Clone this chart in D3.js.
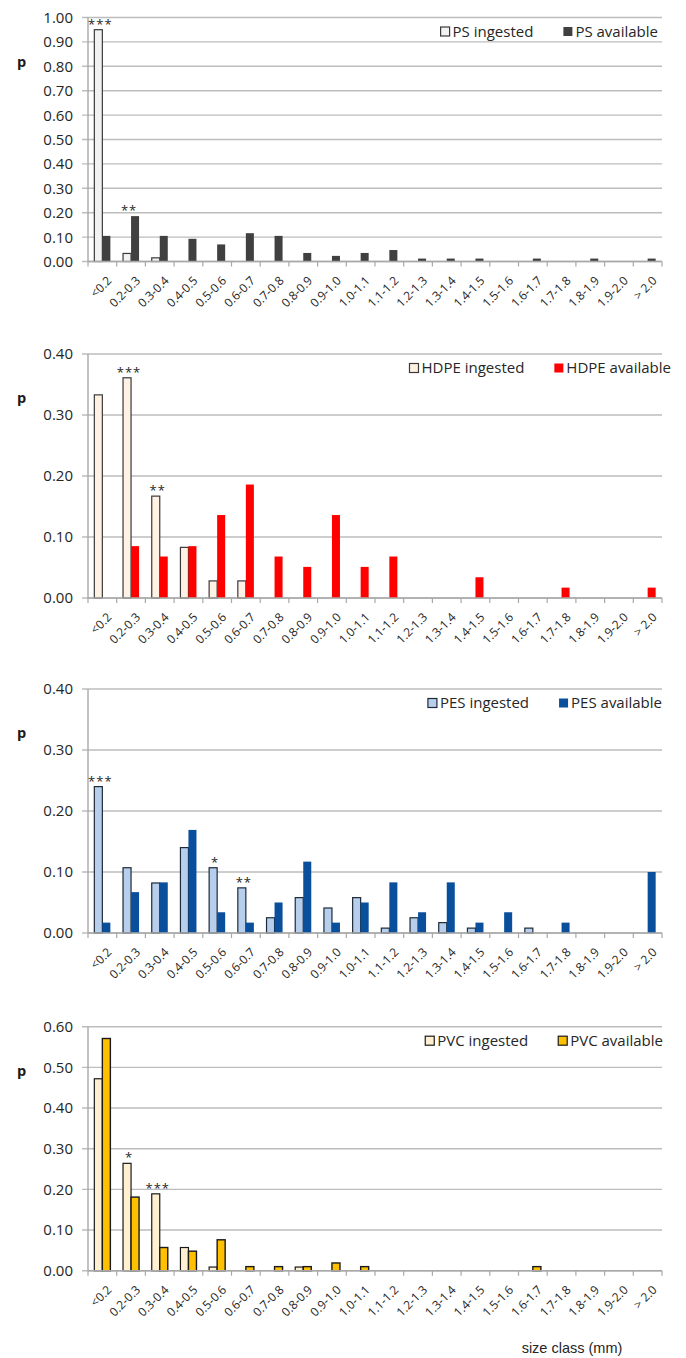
<!DOCTYPE html>
<html>
<head>
<meta charset="utf-8">
<script src="https://cdn.jsdelivr.net/npm/d3@7"></script>
<style>
  html, body { margin: 0; padding: 0; background: #fff; }
  svg { display: block; }
</style>
</head>
<body>
<svg id="chart" width="686" height="1358"></svg>
<script>
// Size classes (mm) shared by all four polymer panels
const categories = ["<0.2","0.2-0.3","0.3-0.4","0.4-0.5","0.5-0.6","0.6-0.7","0.7-0.8","0.8-0.9","0.9-1.0","1.0-1.1",
  "1.1-1.2","1.2-1.3","1.3-1.4","1.4-1.5","1.5-1.6","1.6-1.7","1.7-1.8","1.8-1.9","1.9-2.0","> 2.0"];

// Proportion per size class: ingested vs available particles
const psIngested   = [0.950,0.033,0.015,0,0,0,0,0,0,0,0,0,0,0,0,0,0,0,0,0];
const psAvailable  = [0.105,0.186,0.105,0.093,0.070,0.116,0.105,0.035,0.023,0.035,0.047,0.012,0.012,0.012,0,0.012,0,0.012,0,0.012];
const hdpeIngested  = [0.333,0.361,0.167,0.083,0.028,0.028,0,0,0,0,0,0,0,0,0,0,0,0,0,0];
const hdpeAvailable = [0,0.085,0.068,0.085,0.136,0.186,0.068,0.051,0.136,0.051,0.068,0,0,0.034,0,0,0.017,0,0,0.017];
const pesIngested   = [0.240,0.107,0.082,0.140,0.107,0.074,0.025,0.058,0.041,0.058,0.008,0.025,0.017,0.008,0,0.008,0,0,0,0];
const pesAvailable  = [0.017,0.067,0.083,0.169,0.034,0.017,0.050,0.117,0.017,0.050,0.083,0.034,0.083,0.017,0.034,0,0.017,0,0,0.100];
const pvcIngested   = [0.472,0.264,0.189,0.057,0.009,0,0,0.009,0,0,0,0,0,0,0,0,0,0,0,0];
const pvcAvailable  = [0.571,0.181,0.057,0.048,0.076,0.010,0.010,0.010,0.019,0.010,0,0,0,0,0,0.010,0,0,0,0];

// Significance marks per size class
const psStars   = [{cat:"<0.2", mark:"***"}, {cat:"0.2-0.3", mark:"**"}];
const hdpeStars = [{cat:"0.2-0.3", mark:"***"}, {cat:"0.3-0.4", mark:"**"}];
const pesStars  = [{cat:"<0.2", mark:"***"}, {cat:"0.5-0.6", mark:"*"}, {cat:"0.6-0.7", mark:"**"}];
const pvcStars  = [{cat:"0.2-0.3", mark:"*"}, {cat:"0.3-0.4", mark:"***"}];

// Axis maxima and legend names
const yMaxima = [1.0, 0.4, 0.4, 0.6];
const seriesNames = [["PS ingested","PS available"],["HDPE ingested","HDPE available"],
  ["PES ingested","PES available"],["PVC ingested","PVC available"]];
const xTitle = "size class (mm)";
const yTitle = "p";

const panels = [
  {ing: psIngested, av: psAvailable, stars: psStars, top: 17.5,
   ingFill: "#f2f2f2", ingStroke: "#3a3a3a", avFill: "#404040", avStroke: null, legendEnd: 658},
  {ing: hdpeIngested, av: hdpeAvailable, stars: hdpeStars, top: 354,
   ingFill: "#fff1e4", ingStroke: "#3a3a3a", avFill: "#ff0000", avStroke: null, legendEnd: 671},
  {ing: pesIngested, av: pesAvailable, stars: pesStars, top: 689,
   ingFill: "#b7cfec", ingStroke: "#1e2a38", avFill: "#0a4f9c", avStroke: null, legendEnd: 662},
  {ing: pvcIngested, av: pvcAvailable, stars: pvcStars, top: 1026.7,
   ingFill: "#fff0d2", ingStroke: "#1a1a1a", avFill: "#ffc000", avStroke: "#1a1a1a", legendEnd: 663}
];

const left = 88, right = 662, plotH = 244;
const svg = d3.select("#chart");
const font = "'Open Sans', 'Liberation Sans', Arial, sans-serif";
const textColor = "#262626";

const x = d3.scaleBand().domain(categories).range([left, right]).padding(0);
const xs = d3.scaleBand().domain(["ing","av"]).range([0, x.bandwidth()]).paddingInner(0).paddingOuter(0.79);

panels.forEach((p, i) => {
  const bottom = p.top + plotH;
  const y = d3.scaleLinear().domain([0, yMaxima[i]]).range([bottom, p.top]);
  const ticks = d3.range(0, yMaxima[i] + 1e-9, 0.1);
  const g = svg.append("g");

  // horizontal gridlines with short outward ticks
  g.append("g").selectAll("line").data(ticks).join("line")
    .attr("x1", left - 6).attr("x2", right)
    .attr("y1", d => y(d)).attr("y2", d => y(d))
    .attr("stroke", "#bdbdbd").attr("stroke-width", 1.4);

  // y tick labels
  g.append("g").selectAll("text").data(ticks).join("text")
    .attr("x", left - 15).attr("y", d => y(d)).attr("dy", "0.36em")
    .attr("text-anchor", "end").attr("font-family", font).attr("font-size", 15)
    .attr("fill", textColor).text(d => d3.format(".2f")(d));

  // y axis title
  g.append("text").attr("x", 17).attr("y", p.top + 49)
    .attr("font-family", font).attr("font-weight", "bold").attr("font-size", 14.5)
    .attr("fill", "#1a1a1a").text(yTitle);

  // vertical axis line
  g.append("line").attr("x1", left).attr("x2", left).attr("y1", p.top).attr("y2", bottom)
    .attr("stroke", "#a8a8a8").attr("stroke-width", 1.4);

  // bars
  const rows = categories.map((c, k) => ({cat: c, ing: p.ing[k], av: p.av[k]}));
  const bars = g.append("g");
  bars.selectAll("rect.ing").data(rows.filter(d => d.ing > 0)).join("rect")
    .attr("class", "ing")
    .attr("x", d => x(d.cat) + xs("ing")).attr("width", xs.bandwidth())
    .attr("y", d => y(d.ing)).attr("height", d => y(0) - y(d.ing))
    .attr("fill", p.ingFill).attr("stroke", p.ingStroke).attr("stroke-width", 1.2);
  bars.selectAll("rect.av").data(rows.filter(d => d.av > 0)).join("rect")
    .attr("class", "av")
    .attr("x", d => x(d.cat) + xs("av")).attr("width", xs.bandwidth())
    .attr("y", d => y(d.av)).attr("height", d => y(0) - y(d.av))
    .attr("fill", p.avFill)
    .attr("stroke", p.avStroke || "none").attr("stroke-width", p.avStroke ? 1.4 : 0);

  // bottom axis with category boundary ticks
  const xAxis = g.append("g").attr("transform", `translate(0,${bottom})`);
  xAxis.append("line").attr("x1", left).attr("x2", right)
    .attr("stroke", "#a8a8a8").attr("stroke-width", 1.4);
  xAxis.selectAll("line.tk").data(d3.range(categories.length + 1)).join("line")
    .attr("class", "tk")
    .attr("x1", k => left + k * x.step()).attr("x2", k => left + k * x.step())
    .attr("y1", 0).attr("y2", 5).attr("stroke", "#a8a8a8").attr("stroke-width", 1.2);
  xAxis.selectAll("text").data(categories).join("text")
    .attr("transform", d => `translate(${x(d) + x.bandwidth() / 2 + 7},${17}) rotate(-45)`)
    .attr("text-anchor", "end").attr("dy", "0.35em")
    .attr("font-family", font).attr("font-size", 12).attr("fill", textColor)
    .text(d => d);

  // significance marks
  g.append("g").selectAll("text").data(p.stars).join("text")
    .attr("x", d => x(d.cat) + x.bandwidth() / 2 - 2)
    .attr("y", d => {
      const k = categories.indexOf(d.cat);
      return y(Math.max(p.ing[k], p.av[k])) - 1;
    })
    .attr("text-anchor", "middle").attr("font-family", font).attr("font-size", 13)
    .attr("letter-spacing", 1).attr("fill", textColor).text(d => d.mark);

  // legend, laid out right to left
  const lg = g.append("g").attr("font-family", font).attr("font-size", 15).attr("fill", textColor);
  const ly = p.top + 14;
  const avText = lg.append("text").attr("y", ly).attr("dy", "0.35em").text(seriesNames[i][1]);
  const avW = avText.node().getComputedTextLength();
  const avX = p.legendEnd - avW;
  avText.attr("x", avX);
  lg.append("rect").attr("x", avX - 12).attr("y", ly - 4.5).attr("width", 9).attr("height", 9)
    .attr("fill", p.avFill).attr("stroke", p.avStroke || "none").attr("stroke-width", 1.2);
  const ingText = lg.append("text").attr("y", ly).attr("dy", "0.35em").text(seriesNames[i][0]);
  const ingW = ingText.node().getComputedTextLength();
  const ingX = avX - 12 - 30 - ingW;
  ingText.attr("x", ingX);
  lg.append("rect").attr("x", ingX - 12).attr("y", ly - 4.5).attr("width", 9).attr("height", 9)
    .attr("fill", p.ingFill).attr("stroke", p.ingStroke).attr("stroke-width", 1.2);
});

// x axis title under the last panel
svg.append("text").attr("x", 572).attr("y", 1353).attr("text-anchor", "middle")
  .attr("font-family", "'Liberation Sans', Arial, sans-serif").attr("font-size", 14.5)
  .attr("fill", textColor).text(xTitle);
</script>
</body>
</html>
